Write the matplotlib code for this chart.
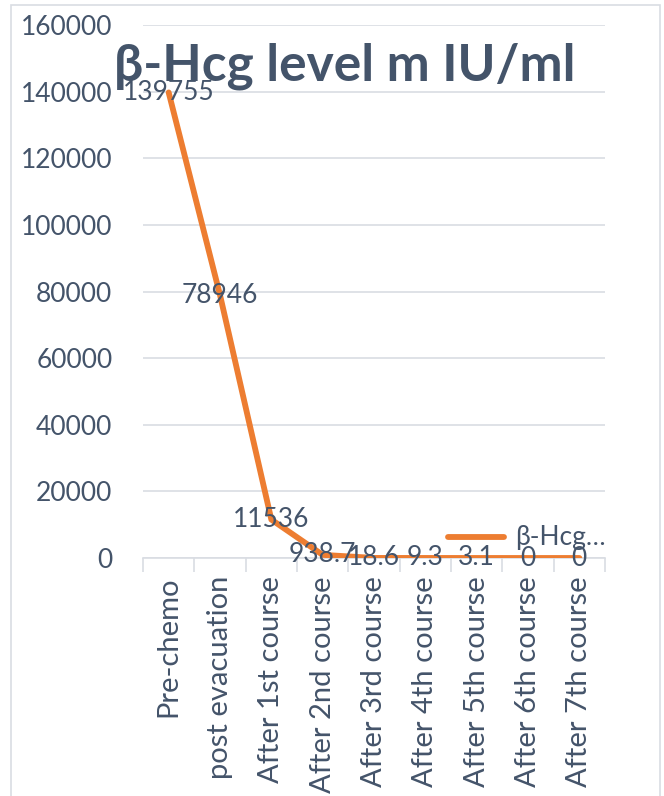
import matplotlib.pyplot as plt
from matplotlib.patches import Rectangle
import numpy as np

# chart data
categories = ['Pre-chemo', 'post evacuation', 'After 1st course', 'After 2nd course',
              'After 3rd course', 'After 4th course', 'After 5th course',
              'After 6th course', 'After 7th course']
hcg_values = [139755, 78946, 11536, 938.7, 18.6, 9.3, 3.1, 0, 0]
value_labels = ['139755', '78946', '11536', '938.7', '18.6', '9.3', '3.1', '0', '0']
y_ticks = [0, 20000, 40000, 60000, 80000, 100000, 120000, 140000, 160000]

TEXT = '#44546a'
GRID = '#d9dde3'
ORANGE = '#ed7d31'
FONT = ['Lato', 'DejaVu Sans']
FS = 19

plt.rcParams['font.family'] = FONT

fig = plt.figure(figsize=(6.64, 7.96), dpi=100)
W, H = 664, 796

# outer chart border
fig.patches.append(Rectangle((11 / W, -0.01), (660 - 11) / W, (796 - 5) / H + 0.01,
                             transform=fig.transFigure, fill=False,
                             edgecolor=GRID, linewidth=1.2))

ax = fig.add_axes([143 / W, (H - 558) / H, (605 - 143) / W, (558 - 25) / H])

x = np.arange(len(categories))
ax.plot(x, hcg_values, color=ORANGE, linewidth=4.2, solid_capstyle='round',
        label='β-Hcg level m IU/ml', zorder=3)

for xi, yi, lab in zip(x, hcg_values, value_labels):
    ax.text(xi, yi, lab, ha='center', va='center', fontsize=FS, color=TEXT, zorder=4)

ax.set_xlim(-0.5, len(categories) - 0.5)
ax.set_ylim(0, 160000)
ax.set_yticks(y_ticks)
ax.set_yticklabels([str(v) for v in y_ticks], fontsize=FS, color=TEXT)
ax.yaxis.grid(True, color=GRID, linewidth=1.2)
ax.set_axisbelow(True)
ax.tick_params(axis='y', length=0, pad=22)

# category boundary ticks below the axis
ax.set_xticks(np.arange(-0.5, len(categories), 1.0))
ax.set_xticklabels([])
ax.set_xticks(x, minor=True)
ax.set_xticklabels(categories, minor=True, rotation=90, fontsize=21, color=TEXT,
                   va='top', ha='center')
ax.tick_params(axis='x', which='major', length=10, color=GRID, width=1.2)
ax.tick_params(axis='x', which='minor', length=0, pad=13)

for side in ['top', 'right', 'left']:
    ax.spines[side].set_visible(False)
ax.spines['bottom'].set_color(GRID)
ax.spines['bottom'].set_linewidth(1.2)

fig.text(345 / W, (H - 80) / H, 'β-Hcg level m IU/ml', ha='center', va='baseline',
         fontsize=37, fontweight='bold', color=TEXT)

# legend drawn as a short line plus truncated text
fig.add_artist(plt.Line2D([448 / W, 504 / W], [(H - 537) / H] * 2, color=ORANGE,
                          linewidth=4.2, solid_capstyle='round',
                          transform=fig.transFigure))
fig.text(515 / W, (H - 537) / H, 'β-Hcg…', ha='left', va='center',
         fontsize=FS, color=TEXT)

fig.savefig('out.png', dpi=100)
